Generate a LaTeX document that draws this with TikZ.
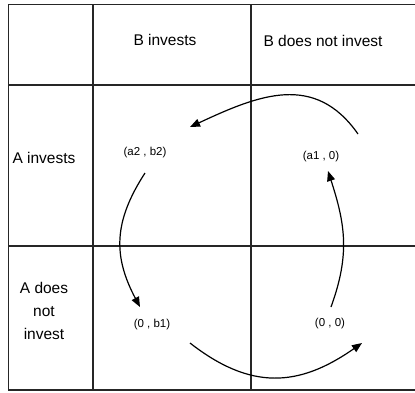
\documentclass[tikz,border=0pt]{standalone}
\usepackage{fontspec}
\setmainfont{Liberation Sans}
\usetikzlibrary{arrows.meta}

\tikzset{
  grid/.style={line width=1.4pt,black!85},
  head/.style={font=\fontsize{15.5}{23}\selectfont,align=center,inner sep=0pt},
  payoff/.style={font=\fontsize{11.5}{14}\selectfont,inner sep=1pt},
  move/.style={line width=1.2pt,-{Triangle[length=10pt,width=8pt]}}
}

\begin{document}
\begin{tikzpicture}[x=1pt,y=1pt]
  \useasboundingbox (0,0) rectangle (415,-392);

  \draw[grid](415,-4.5)--(8.5,-4.5)--(8.5,-390)--(415,-390);
  \draw[grid](8.5,-85)--(415,-85);
  \draw[grid](8.5,-246)--(415,-246);
  \draw[grid](93,-4.5)--(93,-390);
  \draw[grid](251,-4.5)--(251,-390);

  \node[head](bi) at (165,-40){B invests};
  \node[head](bn) at (323,-41){B does not invest};
  \node[head](ai) at (44,-158){A invests};
  \node[head](an) at (44,-311){A does\\not\\invest};

  \node[payoff](p22) at (145,-153){(a2 , b2)};
  \node[payoff](p10) at (321,-157){(a1 , 0)};
  \node[payoff](p01) at (152,-325){(0 , b1)};
  \node[payoff](p00) at (330,-324){(0 , 0)};

  \coordinate (ts) at (358,-134);
  \coordinate (te) at (190,-127);
  \coordinate (ls) at (145,-173);
  \coordinate (le) at (140,-307);
  \coordinate (bs) at (190,-343);
  \coordinate (be) at (362,-343);
  \coordinate (rs) at (331,-307);
  \coordinate (re) at (328,-171);

  \draw[move](ts) to[out=125,in=25,looseness=1.15](te);
  \draw[move](ls) to[out=237,in=118,looseness=1.1](le);
  \draw[move](bs) to[out=-38,in=215,looseness=1.15](be);
  \draw[move](rs) to[out=70,in=-72,looseness=1.05](re);
\end{tikzpicture}
\end{document}
